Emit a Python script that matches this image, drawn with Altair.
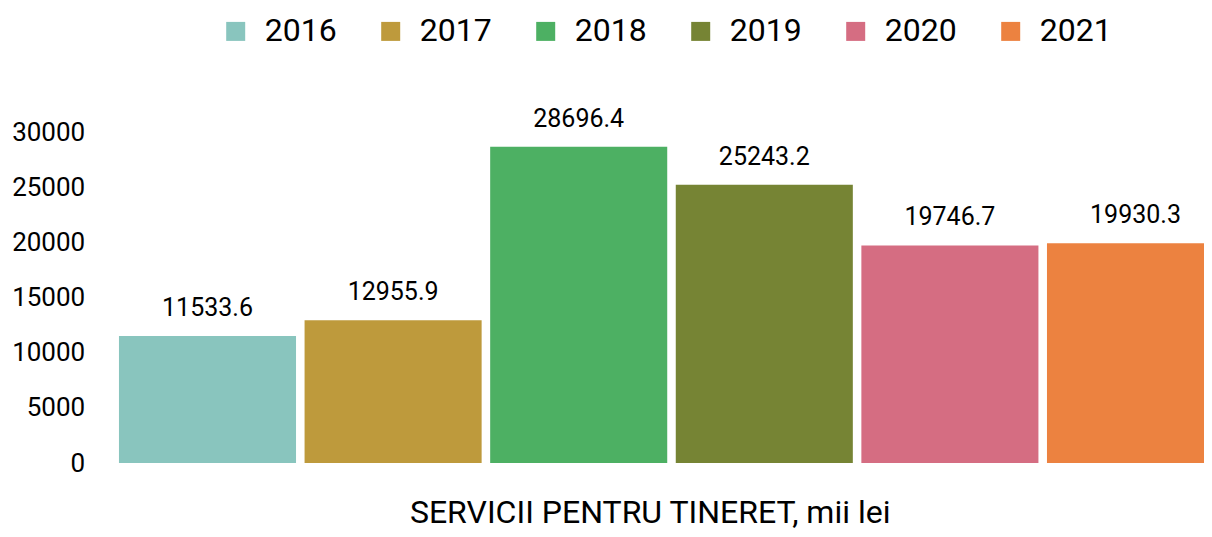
import altair as alt
import pandas as pd

years = ["2016", "2017", "2018", "2019", "2020", "2021"]
values = [11533.6, 12955.9, 28696.4, 25243.2, 19746.7, 19930.3]
colors = ["#89C5BE", "#BE9A3C", "#4DB063", "#768434", "#D56D82", "#EC8240"]
y_ticks = [0, 5000, 10000, 15000, 20000, 25000, 30000]
x_title = "SERVICII PENTRU TINERET, mii lei"

df = pd.DataFrame({"year": years, "value": values})

FONT = "Roboto"

x = alt.X(
    "year:N",
    sort=years,
    scale=alt.Scale(paddingInner=0.046, paddingOuter=0.023, range=[0, 1113.6]),
    axis=alt.Axis(
        labels=False, ticks=False, domain=False, grid=False,
        title=x_title, titleFont=FONT, titleFontSize=32, titleFontWeight="normal",
        titleColor="#000000", titleX=535, titleY=59, titleAlign="center",
        titleBaseline="alphabetic", titleAnchor="start",
    ),
)
y = alt.Y(
    "value:Q",
    scale=alt.Scale(domain=[0, 30000], nice=False),
    axis=alt.Axis(
        values=y_ticks, format="d", ticks=False, domain=False, grid=False, title=None,
        labelFont=FONT, labelFontSize=26, labelColor="#000000", labelPadding=30,
    ),
)

bars = alt.Chart(df).mark_bar().encode(
    x=x,
    y=y,
    color=alt.Color(
        "year:N",
        sort=years,
        scale=alt.Scale(domain=years, range=colors),
        legend=alt.Legend(
            title=None, orient="none", direction="horizontal",
            legendX=105, legendY=-117, symbolType="square", symbolSize=361,
            symbolStrokeWidth=0, labelFont=FONT, labelFontSize=32,
            labelColor="#000000", labelOffset=13, columnPadding=38, padding=0,
        ),
    ),
)

labels = alt.Chart(df).mark_text(
    font=FONT, fontSize=25, color="#000000", dy=-20, baseline="alphabetic", align="center"
).encode(
    x=alt.X("year:N", sort=years),
    y=alt.Y("value:Q"),
    text=alt.Text("value:Q", format=".1f"),
)

chart = alt.layer(bars, labels).properties(
    width=1089.3,
    height=330.6,
    autosize=alt.AutoSizeParams(type="none"),
    padding={"left": 106.7, "top": 124.4, "right": 0, "bottom": 66},
).configure_view(stroke=None)

chart.save("out.html", embed_options={"renderer": "svg", "actions": False})
